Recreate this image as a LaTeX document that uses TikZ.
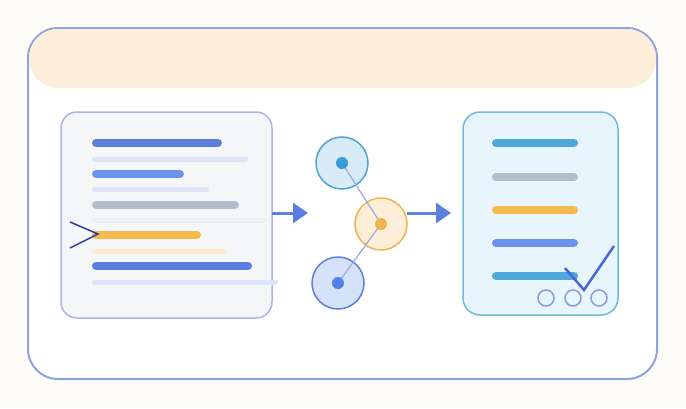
\documentclass[tikz,border=0pt]{standalone}
\usetikzlibrary{arrows.meta}
\definecolor{bgc}{HTML}{FDFCF8}
\definecolor{framec}{HTML}{8FA3E0}
\definecolor{headc}{HTML}{FDEEDA}
\definecolor{lpfill}{HTML}{F5F6F8}
\definecolor{lpdraw}{HTML}{A9B7E8}
\definecolor{dblue}{HTML}{5B7FDF}
\definecolor{mblue}{HTML}{6B93EE}
\definecolor{lblue}{HTML}{DCE4F8}
\definecolor{grayc}{HTML}{B4BDCB}
\definecolor{lgray}{HTML}{ECEEF2}
\definecolor{orangec}{HTML}{F6B94E}
\definecolor{lorange}{HTML}{FDEBD0}
\definecolor{navy}{HTML}{2B3F9F}
\definecolor{tfill}{HTML}{D7ECF7}
\definecolor{tdraw}{HTML}{4DA3D3}
\definecolor{tdot}{HTML}{3A9AD6}
\definecolor{mfill}{HTML}{FDEED8}
\definecolor{mdraw}{HTML}{F2B450}
\definecolor{bfill}{HTML}{D6E1FA}
\definecolor{bdraw}{HTML}{5B7FDF}
\definecolor{bdot}{HTML}{4F7FE8}
\definecolor{linkc}{HTML}{9AA9E0}
\definecolor{rpfill}{HTML}{E8F5FC}
\definecolor{rpdraw}{HTML}{6EB9DC}
\definecolor{cyanc}{HTML}{4EA8DA}
\definecolor{checkc}{HTML}{4A66D6}
\definecolor{ringc}{HTML}{8A9BE0}
\tikzset{
  bar/.style={line width=8pt, line cap=round},
  thinbar/.style={line width=5pt, line cap=round},
  flowarrow/.style={dblue, line width=3pt, -{Triangle[length=15pt,width=20pt]}},
  bubble/.style={circle, minimum size=52pt, inner sep=0pt, line width=1.5pt},
  dot/.style={circle, minimum size=12pt, inner sep=0pt},
  ring/.style={circle, minimum size=16pt, inner sep=0pt, draw=ringc, line width=1.5pt},
}
\begin{document}
\begin{tikzpicture}[x=1pt,y=-1pt]
\fill[bgc] (0,0) rectangle (686,408);
\useasboundingbox (0,0) rectangle (686,408);
% outer frame
\path[fill=white, draw=framec, line width=2pt, rounded corners=30pt] (28,28) rectangle (657,379);
% header band
\fill[headc, rounded corners=29pt] (29,29) rectangle (656,88);
% left panel
\node[draw=lpdraw, fill=lpfill, line width=1.5pt, rounded corners=16pt, minimum width=211pt, minimum height=206pt, inner sep=0pt] (lp) at (166.5,215) {};
\draw[bar, dblue]   (96,143) -- (218,143);
\draw[thinbar, lblue] (94.5,159) -- (245.5,159);
\draw[bar, mblue]   (96,174) -- (180,174);
\draw[thinbar, lblue] (94.5,189) -- (206.5,189);
\draw[bar, grayc]   (96,205) -- (235,205);
\draw[thinbar, lgray] (94.5,220) -- (263.5,220);
\draw[bar, orangec] (96,235) -- (197,235);
\draw[thinbar, lorange] (94.5,251) -- (224.5,251);
\draw[bar, dblue]   (96,266) -- (248,266);
\draw[thinbar, lblue] (94.5,282) -- (275.5,282);
\coordinate (chevA) at (70,222);
\coordinate (chevB) at (98,234);
\coordinate (chevC) at (70,248);
\draw[navy, line width=1.5pt] (chevA) -- (chevB) -- (chevC);
% bubbles
\node[bubble, fill=tfill, draw=tdraw] (top) at (342,163) {};
\node[bubble, fill=mfill, draw=mdraw] (mid) at (381,224) {};
\node[bubble, fill=bfill, draw=bdraw] (bot) at (338,283) {};
\draw[linkc, line width=1.2pt] (top.center) -- (mid.center) -- (bot.center);
\node[dot, fill=tdot] at (top) {};
\node[dot, fill=mdraw] at (mid) {};
\node[dot, fill=bdot] at (bot) {};
% arrows
\coordinate (a1s) at (272,213);
\coordinate (a1e) at (308,213);
\coordinate (a2s) at (407,213);
\coordinate (a2e) at (451,213);
\draw[flowarrow] (a1s) -- (a1e);
\draw[flowarrow] (a2s) -- (a2e);
% right panel
\node[draw=rpdraw, fill=rpfill, line width=1.5pt, rounded corners=17pt, minimum width=155pt, minimum height=203pt, inner sep=0pt] (rp) at (540.5,213.5) {};
\draw[bar, cyanc]   (496,143) -- (574,143);
\draw[bar, grayc]   (496,177) -- (574,177);
\draw[bar, orangec] (496,210) -- (574,210);
\draw[bar, mblue]   (496,243) -- (574,243);
\draw[bar, cyanc]   (496,276) -- (574,276);
\coordinate (ckA) at (565,268);
\coordinate (ckB) at (584,290);
\coordinate (ckC) at (614,246);
\draw[checkc, line width=2.5pt] (ckA) -- (ckB) -- (ckC);
\node[ring] (r1) at (546,298) {};
\node[ring] (r2) at (573,298) {};
\node[ring] (r3) at (599,298) {};
\end{tikzpicture}
\end{document}
